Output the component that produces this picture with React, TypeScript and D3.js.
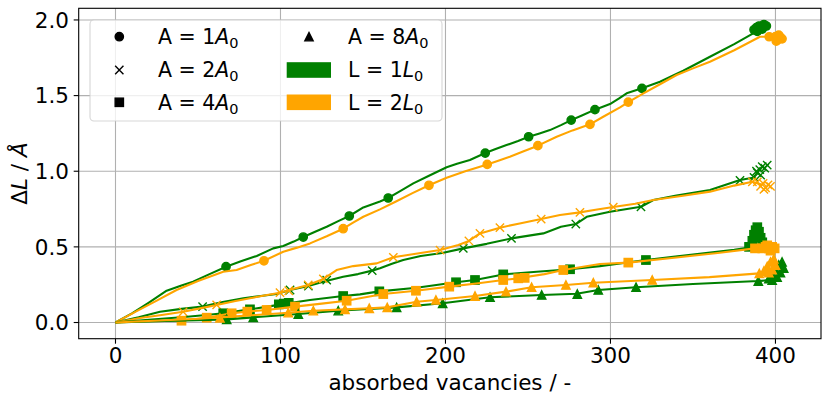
import { line, scaleLinear } from "d3";

type Pt = readonly [number, number];
type MarkerKind = "circle" | "x" | "square" | "triangle";

const green = "#008000";
const orange = "#ffa500";

// A = 1 A0
const a1L1Line: Pt[] = [[0, 0], [10, 0.06], [20, 0.13], [31, 0.21], [40, 0.245], [47, 0.27], [57, 0.32], [67, 0.369], [76, 0.405], [85.6, 0.44], [95.6, 0.49], [101.7, 0.506], [108, 0.535], [113.8, 0.565], [121, 0.6], [128, 0.633], [135, 0.67], [141.7, 0.704], [150.2, 0.761], [160.3, 0.8], [165.3, 0.823], [172, 0.865], [180.5, 0.92], [190, 0.97], [200.7, 1.026], [207, 1.05], [214.8, 1.074], [224.1, 1.12], [230, 1.145], [237, 1.173], [244, 1.2], [250.4, 1.228], [257, 1.25], [263.3, 1.272], [270, 1.305], [276.2, 1.338], [283, 1.37], [290.6, 1.407], [299.7, 1.444], [305, 1.48], [309.8, 1.515], [319.1, 1.548], [330, 1.591], [344.1, 1.664], [360.3, 1.757], [375, 1.84], [386.5, 1.911], [390, 1.95]];
const a1L1Marks: Pt[] = [[67, 0.369], [113.8, 0.565], [141.7, 0.704], [165.3, 0.823], [224.1, 1.12], [250.4, 1.228], [276.2, 1.338], [290.6, 1.407], [319.1, 1.548], [387, 1.935], [388.5, 1.95], [390, 1.96], [391.5, 1.955], [393, 1.97], [394.5, 1.96], [392, 1.94], [389, 1.925]];
const a1L2Line: Pt[] = [[0, 0], [12, 0.07], [25, 0.145], [37, 0.215], [50, 0.275], [65.3, 0.336], [73.4, 0.347], [82, 0.38], [90, 0.408], [101.7, 0.468], [110, 0.495], [117.9, 0.523], [128, 0.57], [138, 0.62], [144, 0.66], [150.2, 0.699], [160.3, 0.748], [170, 0.8], [180, 0.855], [190, 0.907], [200.7, 0.957], [212, 1.0], [225.3, 1.045], [232, 1.07], [239, 1.096], [247, 1.13], [256, 1.169], [267.4, 1.228], [277, 1.27], [287.6, 1.31], [295.6, 1.36], [305.8, 1.422], [310.8, 1.457], [320, 1.515], [330, 1.575], [340.1, 1.636], [350, 1.68], [360.3, 1.724], [375, 1.8], [390.6, 1.889], [396, 1.889], [402, 1.88]];
const a1L2Marks: Pt[] = [[90, 0.408], [138, 0.62], [190, 0.907], [225.3, 1.045], [256, 1.169], [287.6, 1.31], [310.8, 1.457], [396.2, 1.889], [400, 1.89], [401.5, 1.87], [403, 1.885], [404, 1.875], [402, 1.9], [400.5, 1.86]];

// A = 2 A0
const a2L1Line: Pt[] = [[0, 0], [14, 0.035], [27, 0.071], [40, 0.09], [52.8, 0.105], [65, 0.135], [77.5, 0.16], [88, 0.175], [97.7, 0.188], [105.8, 0.215], [116.9, 0.241], [125.9, 0.27], [138, 0.303], [147, 0.32], [155.6, 0.343], [160.3, 0.358], [168, 0.39], [174.4, 0.413], [185, 0.44], [198, 0.46], [210.8, 0.49], [225, 0.52], [240, 0.556], [259.3, 0.589], [270, 0.633], [279, 0.651], [285.6, 0.699], [299.7, 0.732], [310, 0.75], [318.5, 0.765], [326, 0.81], [340, 0.84], [360.3, 0.876], [378.5, 0.942], [388, 0.96]];
const a2L1Marks: Pt[] = [[52.8, 0.105], [105.8, 0.215], [116.9, 0.241], [128, 0.28], [155.6, 0.343], [210.8, 0.49], [240, 0.556], [279, 0.651], [318.5, 0.765], [378.5, 0.94], [387, 0.96], [389, 0.99], [390.5, 1.01], [392, 1.03], [393.5, 1.02], [395, 1.04], [391, 0.975], [388.5, 1.0]];
const a2L2Line: Pt[] = [[0, 0], [15, 0.03], [28, 0.05], [41, 0.071], [52, 0.095], [61.3, 0.116], [72, 0.14], [81.5, 0.16], [91, 0.18], [99.7, 0.197], [107, 0.22], [116.8, 0.248], [126, 0.288], [134, 0.347], [144.1, 0.373], [158.3, 0.391], [168.4, 0.431], [182, 0.455], [196.7, 0.479], [207.8, 0.512], [214.2, 0.539], [220.9, 0.589], [233, 0.627], [245, 0.655], [258, 0.684], [269.4, 0.711], [281.5, 0.728], [291, 0.745], [301.7, 0.763], [315, 0.785], [326, 0.81], [345, 0.84], [360.3, 0.865], [375, 0.905], [386, 0.93], [392, 0.91]];
const a2L2Marks: Pt[] = [[41, 0.071], [61.3, 0.116], [99.7, 0.197], [105, 0.21], [116.8, 0.248], [126, 0.288], [168.4, 0.431], [196.7, 0.479], [214.2, 0.539], [220.9, 0.589], [233, 0.627], [258, 0.684], [281.5, 0.728], [301.7, 0.763], [386, 0.93], [389, 0.93], [391, 0.9], [392.5, 0.92], [394, 0.89], [395.5, 0.91], [397, 0.9], [393, 0.88]];

// A = 4 A0
const a4L1Line: Pt[] = [[0, 0], [20, 0.018], [40, 0.035], [55, 0.05], [65.3, 0.061], [81.5, 0.087], [95, 0.11], [101.7, 0.122], [117.9, 0.149], [138, 0.175], [148.2, 0.186], [159.9, 0.206], [182.5, 0.23], [206.4, 0.266], [217.9, 0.281], [235, 0.318], [255.3, 0.336], [275.5, 0.352], [293.6, 0.373], [321.5, 0.413], [350, 0.45], [375, 0.48], [387, 0.5]];
const a4L1Marks: Pt[] = [[65.3, 0.061], [68, 0.05], [81.5, 0.087], [99, 0.12], [102, 0.125], [105, 0.13], [138, 0.175], [159.9, 0.206], [206.4, 0.266], [217.9, 0.281], [235, 0.318], [275.5, 0.352], [321.5, 0.413], [384, 0.5], [386, 0.54], [387, 0.58], [388, 0.61], [389, 0.63], [390, 0.6], [391, 0.56], [392, 0.53]];
const a4L2Line: Pt[] = [[0, 0], [20, 0.008], [40, 0.012], [55.3, 0.032], [70.4, 0.061], [79.9, 0.072], [91.6, 0.083], [108.8, 0.105], [125, 0.125], [140.1, 0.144], [148.2, 0.16], [162.3, 0.188], [182.1, 0.21], [202.3, 0.237], [220, 0.26], [235, 0.281], [244.1, 0.292], [260, 0.32], [271.4, 0.347], [293.6, 0.387], [310.8, 0.396], [340, 0.43], [365, 0.46], [387.6, 0.49], [395, 0.49]];
const a4L2Marks: Pt[] = [[40, 0.012], [55.3, 0.032], [70.4, 0.061], [79.9, 0.072], [91.6, 0.083], [108.8, 0.105], [140.1, 0.144], [162.3, 0.188], [182.1, 0.21], [202.3, 0.237], [235, 0.281], [244.1, 0.292], [248, 0.295], [271.4, 0.347], [310.8, 0.396], [387.6, 0.49], [392, 0.49], [394, 0.5], [396, 0.49], [398, 0.5], [399.5, 0.49], [397, 0.475], [395, 0.51]];

// A = 8 A0
const a8L1Line: Pt[] = [[0, 0], [30, 0.01], [50, 0.015], [67.4, 0.021], [83.5, 0.034], [110.8, 0.056], [135, 0.078], [148.2, 0.087], [170.4, 0.1], [198.3, 0.127], [227, 0.167], [258.3, 0.182], [279.5, 0.19], [292.6, 0.215], [315.5, 0.233], [350, 0.255], [389.6, 0.274], [396, 0.28]];
const a8L1Marks: Pt[] = [[67.4, 0.021], [83.5, 0.034], [110.8, 0.056], [135, 0.078], [170.4, 0.1], [198.3, 0.127], [227, 0.167], [258.3, 0.182], [279.9, 0.188], [292.6, 0.215], [315.5, 0.233], [389.6, 0.274], [396, 0.29], [398, 0.32], [400, 0.35], [402, 0.38], [404, 0.4], [403, 0.33], [405, 0.36], [401, 0.3], [398, 0.28]];
const a8L2Line: Pt[] = [[0, 0], [30, 0.015], [50, 0.025], [63.3, 0.034], [85, 0.05], [104.7, 0.065], [119.9, 0.078], [139.1, 0.087], [153.8, 0.094], [164.7, 0.1], [182.5, 0.137], [194.2, 0.149], [217.9, 0.175], [236.7, 0.204], [252.2, 0.233], [273, 0.248], [289.6, 0.263], [325.3, 0.281], [360, 0.3], [390.2, 0.325], [395, 0.34]];
const a8L2Marks: Pt[] = [[63.3, 0.03], [104.7, 0.065], [119.9, 0.078], [139.1, 0.087], [153.8, 0.094], [164.7, 0.1], [182.5, 0.137], [194.2, 0.149], [217.9, 0.175], [236.7, 0.204], [252.2, 0.233], [273, 0.248], [289.6, 0.263], [325.3, 0.281], [390.2, 0.325], [393, 0.34], [395, 0.37], [397, 0.4], [399, 0.42], [400, 0.38], [398, 0.35], [396, 0.33]];

const xTicks = [0, 100, 200, 300, 400];
const yTicks = [0, 0.5, 1.0, 1.5, 2.0];
const areaLabels = ["1", "2", "4", "8"];
const lengthLabels = ["1", "2"];

const series: { line: Pt[]; marks: Pt[]; color: string; marker: MarkerKind }[] = [
  { line: a1L1Line, marks: a1L1Marks, color: green, marker: "circle" },
  { line: a1L2Line, marks: a1L2Marks, color: orange, marker: "circle" },
  { line: a2L1Line, marks: a2L1Marks, color: green, marker: "x" },
  { line: a2L2Line, marks: a2L2Marks, color: orange, marker: "x" },
  { line: a4L1Line, marks: a4L1Marks, color: green, marker: "square" },
  { line: a4L2Line, marks: a4L2Marks, color: orange, marker: "square" },
  { line: a8L1Line, marks: a8L1Marks, color: green, marker: "triangle" },
  { line: a8L2Line, marks: a8L2Marks, color: orange, marker: "triangle" }
];

const width = 830;
const height = 402;
const plot = { left: 78.7, right: 821, top: 8.3, bottom: 338.7 };
const font = "'DejaVu Sans', sans-serif";
const tickFont = 21.5;

const x = scaleLinear().domain([-22.3, 427.6]).range([plot.left, plot.right]);
const y = scaleLinear().domain([-0.107, 2.077]).range([plot.bottom, plot.top]);

function Marker({ kind, cx, cy, color }: { kind: MarkerKind; cx: number; cy: number; color: string }) {
  const s = 8.3;
  const h = s / 2;
  if (kind === "circle") {
    return <circle cx={cx} cy={cy} r={h} fill={color} stroke={color} strokeWidth={1.4} />;
  }
  if (kind === "square") {
    return <rect x={cx - h} y={cy - h} width={s} height={s} fill={color} stroke={color} strokeWidth={1.4} />;
  }
  if (kind === "triangle") {
    return (
      <path
        d={`M${cx},${cy - h}L${cx - h},${cy + h}L${cx + h},${cy + h}Z`}
        fill={color}
        stroke={color}
        strokeWidth={1.4}
      />
    );
  }
  return (
    <path
      d={`M${cx - h},${cy - h}L${cx + h},${cy + h}M${cx - h},${cy + h}L${cx + h},${cy - h}`}
      stroke={color}
      strokeWidth={1.4}
      fill="none"
    />
  );
}

export default function App() {
  const path = line<Pt>()
    .x((d) => x(d[0]))
    .y((d) => y(d[1]));

  const legendMarkers: MarkerKind[] = ["circle", "x", "square", "triangle"];
  const rowY = [36.7, 70, 102.3];
  const legendItems = [
    ...legendMarkers.map((m, i) => ({ kind: "marker" as const, marker: m, color: "#000", label: areaLabels[i], sym: "A" })),
    ...lengthLabels.map((l, i) => ({ kind: "patch" as const, marker: "circle" as MarkerKind, color: i === 0 ? green : orange, label: l, sym: "L" }))
  ];

  return (
    <svg width={width} height={height} style={{ position: "absolute", left: 0, top: 0 }} fontFamily={font}>
      <rect width={width} height={height} fill="#fff" />
      <defs>
        <clipPath id="plot-clip">
          <rect x={plot.left} y={plot.top} width={plot.right - plot.left} height={plot.bottom - plot.top} />
        </clipPath>
      </defs>
      <g stroke="#b0b0b0" strokeWidth={1.1}>
        {xTicks.map((t) => (
          <line key={`gx${t}`} x1={x(t)} x2={x(t)} y1={plot.top} y2={plot.bottom} />
        ))}
        {yTicks.map((t) => (
          <line key={`gy${t}`} x1={plot.left} x2={plot.right} y1={y(t)} y2={y(t)} />
        ))}
      </g>
      <g clipPath="url(#plot-clip)">
        {series.map((s, i) => (
          <g key={i}>
            <path d={path(s.line) ?? ""} fill="none" stroke={s.color} strokeWidth={2.1} strokeLinejoin="round" />
            {s.marks.map((p, j) => (
              <Marker key={j} kind={s.marker} cx={x(p[0])} cy={y(p[1])} color={s.color} />
            ))}
          </g>
        ))}
      </g>
      <rect
        x={plot.left}
        y={plot.top}
        width={plot.right - plot.left}
        height={plot.bottom - plot.top}
        fill="none"
        stroke="#000"
        strokeWidth={1.1}
      />
      <g fontSize={tickFont} fill="#000">
        {xTicks.map((t) => (
          <g key={`tx${t}`}>
            <line x1={x(t)} x2={x(t)} y1={plot.bottom} y2={plot.bottom + 5} stroke="#000" strokeWidth={1.1} />
            <text x={x(t)} y={363.3} textAnchor="middle">
              {t}
            </text>
          </g>
        ))}
        {yTicks.map((t) => (
          <g key={`ty${t}`}>
            <line x1={plot.left - 5} x2={plot.left} y1={y(t)} y2={y(t)} stroke="#000" strokeWidth={1.1} />
            <text x={69} y={y(t) + 7.8} textAnchor="end">
              {t.toFixed(1)}
            </text>
          </g>
        ))}
      </g>
      <text x={(plot.left + plot.right) / 2} y={389.5} fontSize={tickFont} textAnchor="middle">
        absorbed vacancies / -
      </text>
      <text transform={`translate(27,${(plot.top + plot.bottom) / 2}) rotate(-90)`} fontSize={tickFont} textAnchor="middle">
        Δ<tspan fontStyle="italic">L</tspan> / <tspan fontStyle="italic">Å</tspan>
      </text>
      <rect x={90} y={20} width={352} height={101} rx={4} fill="#fff" fillOpacity={0.8} stroke="#cccccc" strokeOpacity={0.8} strokeWidth={1.1} />
      {legendItems.map((item, i) => {
        const col = i < 3 ? 0 : 1;
        const row = i < 3 ? i : i - 3;
        const cy = rowY[row];
        const mx = col === 0 ? 119.3 : 309;
        const tx = col === 0 ? 158 : 348;
        return (
          <g key={i}>
            {item.kind === "marker" ? (
              <Marker kind={item.marker} cx={mx} cy={cy} color={item.color} />
            ) : (
              <rect x={286.7} y={cy - 7.8} width={44.3} height={15.6} fill={item.color} />
            )}
            <text x={tx} y={cy + 7.4} fontSize={20.5}>
              {item.sym} = {item.label}
              <tspan fontStyle="italic">{item.sym}</tspan>
              <tspan fontSize={14.5} dy={4}>0</tspan>
            </text>
          </g>
        );
      })}
    </svg>
  );
}
